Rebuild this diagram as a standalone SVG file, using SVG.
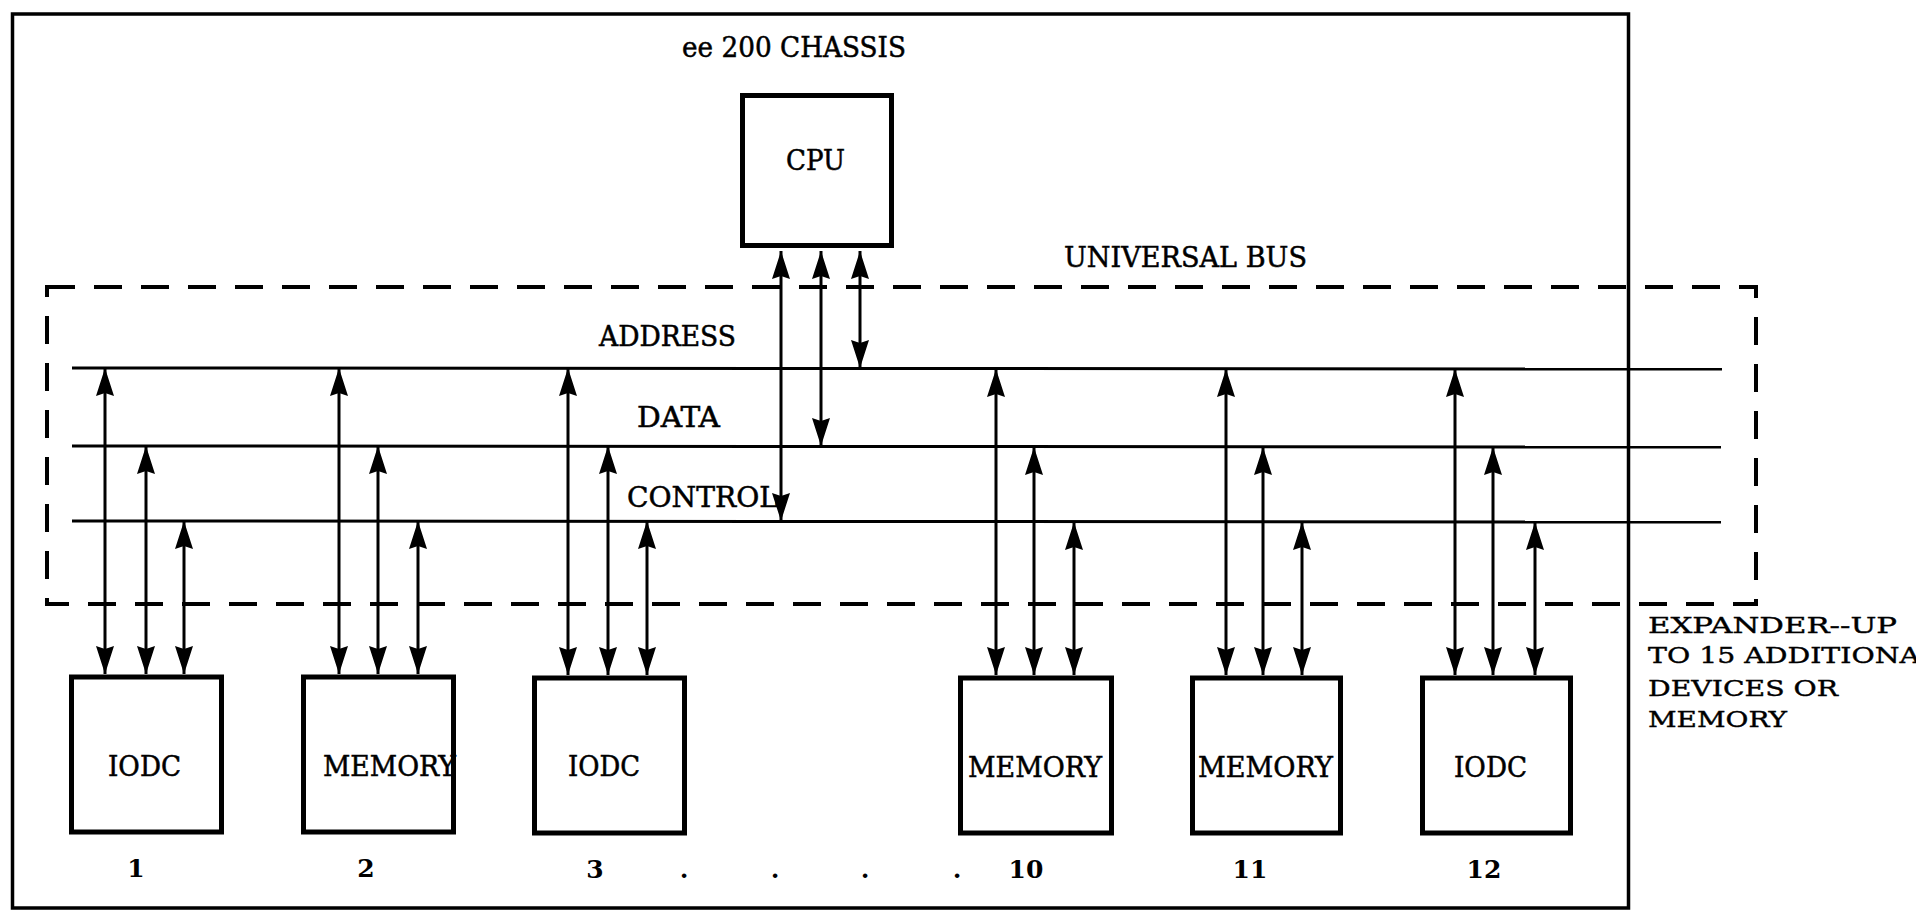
<svg xmlns="http://www.w3.org/2000/svg" width="1916" height="911" viewBox="0 0 1916 911">
<style>
.bg{fill:#fff}
.frame{fill:none;stroke:#000;stroke-width:3.5}
.box{fill:#fff;stroke:#000;stroke-width:5}
.bus{fill:none;stroke:#000;stroke-width:4;stroke-dasharray:28 19}
.line{stroke:#000;stroke-width:3;fill:none}
.arr{stroke:#000;stroke-width:3;fill:none;marker-start:url(#ah);marker-end:url(#ah)}
.lbl{font-family:"DejaVu Serif","Liberation Serif",serif;font-size:27px;fill:#000;stroke:#000;stroke-width:0.5}
.sm{font-family:"DejaVu Serif","Liberation Serif",serif;font-size:23px;fill:#000;stroke:#000;stroke-width:0.4}
.num{font-family:"DejaVu Serif","Liberation Serif",serif;font-size:25px;font-weight:bold;fill:#000;text-anchor:middle}
</style>
<defs>
<marker id="ah" viewBox="0 -10 28 20" refX="28" refY="0" markerWidth="28" markerHeight="20" markerUnits="userSpaceOnUse" orient="auto-start-reverse">
<path d="M0,-9 L28,0 L0,9 L3,0 z" fill="#000"/>
</marker>
</defs>
<rect class="bg" x="0" y="0" width="1916" height="911"/>

<g id="chassis">
<rect class="frame" x="12.5" y="14" width="1616" height="894"/>
<text class="lbl" x="682" y="57" textLength="224" lengthAdjust="spacingAndGlyphs">ee 200 CHASSIS</text>
</g>

<g id="universal-bus">
<rect class="bus" x="47" y="287" width="1709" height="317"/>
<text class="lbl" x="1064" y="267" textLength="243" lengthAdjust="spacingAndGlyphs">UNIVERSAL BUS</text>
<line class="line" x1="72" y1="368" x2="1722" y2="369"/>
<line class="line" x1="72" y1="446" x2="1721" y2="447"/>
<line class="line" x1="72" y1="521" x2="1721" y2="522"/>
<text class="lbl" x="599" y="346" textLength="137" lengthAdjust="spacingAndGlyphs">ADDRESS</text>
<text class="lbl" x="637" y="427" textLength="83" lengthAdjust="spacingAndGlyphs">DATA</text>
<text class="lbl" x="627" y="507" textLength="151" lengthAdjust="spacingAndGlyphs">CONTROL</text>
</g>

<g id="cpu">
<rect class="box" x="742.5" y="95.5" width="149" height="150"/>
<text class="lbl" x="786" y="170" textLength="59" lengthAdjust="spacingAndGlyphs">CPU</text>
</g>

<g id="dev1">
<rect class="box" x="71.5" y="677" width="150" height="155"/>
<text class="lbl" x="108" y="776" textLength="73" lengthAdjust="spacingAndGlyphs">IODC</text>
<text class="num" x="136" y="877">1</text>
</g>
<g id="dev2">
<rect class="box" x="303.5" y="677" width="150" height="155"/>
<text class="lbl" x="323" y="776" textLength="133" lengthAdjust="spacingAndGlyphs">MEMORY</text>
<text class="num" x="366" y="877">2</text>
</g>
<g id="dev3">
<rect class="box" x="534.5" y="678" width="150" height="155"/>
<text class="lbl" x="568" y="776" textLength="72" lengthAdjust="spacingAndGlyphs">IODC</text>
<text class="num" x="595" y="878">3</text>
</g>
<g id="dev10">
<rect class="box" x="960.5" y="678" width="151" height="155"/>
<text class="lbl" x="968" y="777" textLength="134" lengthAdjust="spacingAndGlyphs">MEMORY</text>
<text class="num" x="1026" y="878">10</text>
</g>
<g id="dev11">
<rect class="box" x="1192.5" y="678" width="148" height="155"/>
<text class="lbl" x="1198" y="777" textLength="135" lengthAdjust="spacingAndGlyphs">MEMORY</text>
<text class="num" x="1250" y="878">11</text>
</g>
<g id="dev12">
<rect class="box" x="1422.5" y="678" width="148" height="155"/>
<text class="lbl" x="1454" y="777" textLength="73" lengthAdjust="spacingAndGlyphs">IODC</text>
<text class="num" x="1484" y="878">12</text>
</g>

<g id="ellipsis">
<text class="num" x="684" y="878">.</text>
<text class="num" x="775" y="878">.</text>
<text class="num" x="865" y="878">.</text>
<text class="num" x="957" y="878">.</text>
</g>

<g id="expander-note">
<text class="sm" x="1648" y="633" textLength="249" lengthAdjust="spacingAndGlyphs">EXPANDER--UP</text>
<text class="sm" x="1648" y="663" textLength="272" lengthAdjust="spacingAndGlyphs">TO 15 ADDITIONA</text>
<text class="sm" x="1648" y="696" textLength="190" lengthAdjust="spacingAndGlyphs">DEVICES OR</text>
<text class="sm" x="1648" y="727" textLength="139" lengthAdjust="spacingAndGlyphs">MEMORY</text>
</g>

<g id="connectors">
<path class="arr" d="M781,251 L781,521"/>
<path class="arr" d="M821,251 L821,446"/>
<path class="arr" d="M860,251 L860,368"/>

<path class="arr" d="M105,368 L105,674"/>
<path class="arr" d="M146,446 L146,674"/>
<path class="arr" d="M184,521 L184,674"/>

<path class="arr" d="M339,368 L339,674"/>
<path class="arr" d="M378,446 L378,674"/>
<path class="arr" d="M418,521 L418,674"/>

<path class="arr" d="M568,368 L568,675"/>
<path class="arr" d="M608,446 L608,675"/>
<path class="arr" d="M647,521 L647,675"/>

<path class="arr" d="M996,369 L996,675"/>
<path class="arr" d="M1034,447 L1034,675"/>
<path class="arr" d="M1074,522 L1074,675"/>

<path class="arr" d="M1226,369 L1226,675"/>
<path class="arr" d="M1263,447 L1263,675"/>
<path class="arr" d="M1302,522 L1302,675"/>

<path class="arr" d="M1455,369 L1455,675"/>
<path class="arr" d="M1493,447 L1493,675"/>
<path class="arr" d="M1535,522 L1535,675"/>
</g>
</svg>
